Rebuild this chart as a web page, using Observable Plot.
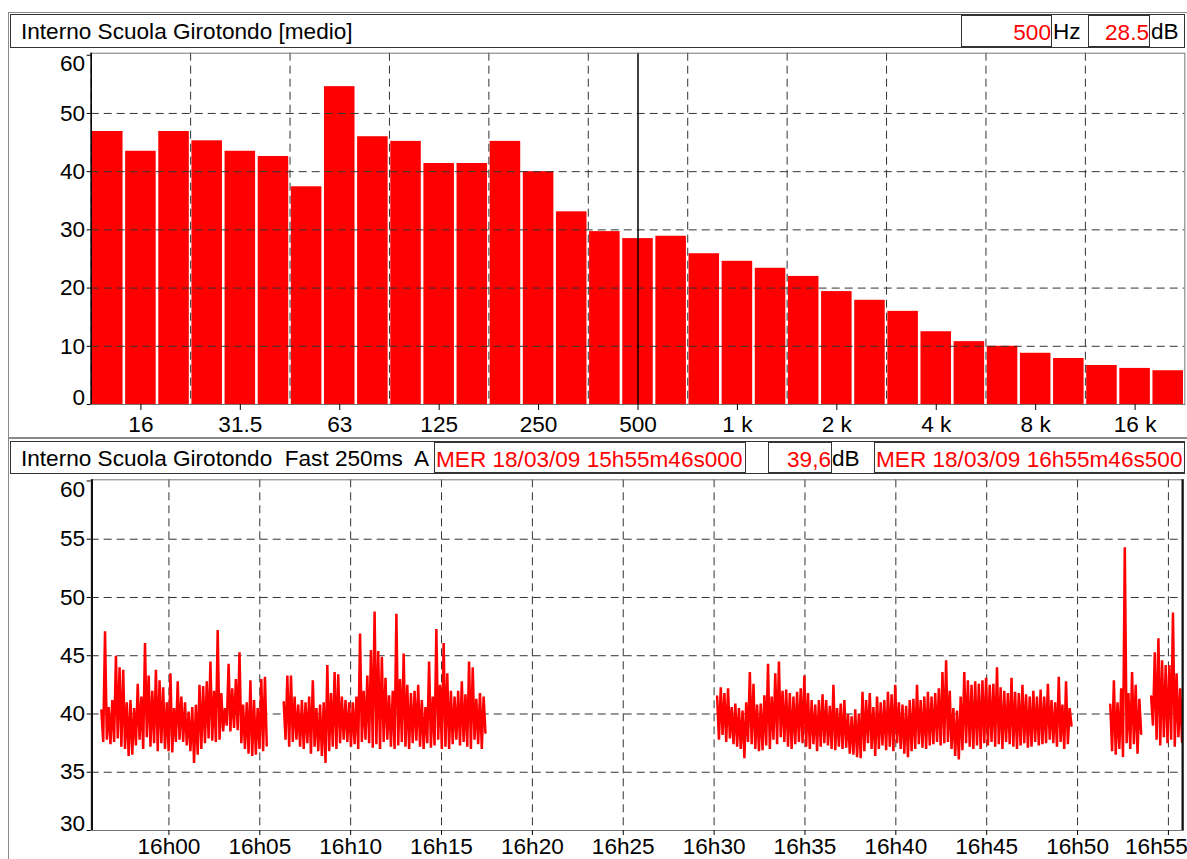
<!DOCTYPE html>
<html>
<head>
<meta charset="utf-8">
<script src="https://cdn.jsdelivr.net/npm/d3@7"></script>
<script src="https://cdn.jsdelivr.net/npm/@observablehq/plot@0.6"></script>
<style>
  html, body { margin: 0; padding: 0; background: #fff; overflow: hidden; }
  #root { position: relative; width: 1187px; height: 859px; overflow: hidden; font-family: "Liberation Sans", Arial, sans-serif; font-size: 22.6px; color: #000; }
  #root svg { position: absolute; left: 0; background: transparent; }
  .panel { position: absolute; border: 1px solid #8a8a8a; box-sizing: border-box; }
  .hdr { position: absolute; background: #fff; border: 1px solid #333; box-sizing: border-box; }
  .txt { position: absolute; white-space: pre; line-height: 1; }
  .box { position: absolute; background: #fff; border: 1px solid #333; box-sizing: border-box; color: #f00; text-align: right; white-space: pre; line-height: 1; }
</style>
</head>
<body>
<div id="root"></div>
<script>
// ---------- Spectrum (top) ----------
const bands = ["12.5","16","20","25","31.5","40","50","63","80","100","125","160","200","250","315","400","500","630","800","1 k","1.25 k","1.6 k","2 k","2.5 k","3.15 k","4 k","5 k","6.3 k","8 k","10 k","12.5 k","16 k","20 k"];
const levels = [46.9,43.5,46.9,45.3,43.5,42.6,37.4,54.6,46.0,45.2,41.4,41.4,45.2,40.0,33.1,29.7,28.5,28.9,25.9,24.6,23.4,22.0,19.4,17.9,16.0,12.5,10.8,10.0,8.8,7.9,6.7,6.2,5.8];
const bandTickLabels = ["16","31.5","63","125","250","500","1 k","2 k","4 k","8 k","16 k"];
const bandGridAt = ["12.5","25","50","100","200","400","800","1.6 k","3.15 k","6.3 k","12.5 k"];
const spectrumTicks = [0,10,20,30,40,50,60];
const cursorBand = "500";

// ---------- Time history (bottom) ----------
const timeStart = "2009-03-18T15:55:46.000Z";
const timeEnd   = "2009-03-18T16:55:46.500Z";
const levelTicks = [30,35,40,45,50,55,60];
const sampleSeconds = 12;
const segStarts = ["2009-03-18T15:56:17Z","2009-03-18T16:06:19Z","2009-03-18T16:30:10Z","2009-03-18T16:51:48Z","2009-03-18T16:54:03Z"];
const peaks1 = [40.3,47.1,40.6,41.2,45.0,44.0,43.8,41.0,41.2,40.5,42.6,41.5,46.1,43.3,42.0,43.8,42.9,42.3,41.0,43.5,40.5,42.8,41.5,41.0,40.2,40.6,40.8,42.5,42.4,42.8,44.5,42.0,47.2,41.8,40.5,44.3,42.2,43.0,45.3,40.8,41.0,42.9,41.2,40.5,43.0,43.2];
const floors1 = [37.6,37.8,37.4,37.6,37.9,37.2,37.0,36.4,36.5,37.3,37.8,37.0,38.0,37.2,37.5,36.8,37.5,37.0,36.8,36.7,37.6,37.8,37.6,37.3,36.8,35.8,36.5,37.0,37.5,37.9,37.7,37.6,37.8,38.5,39.0,38.5,38.8,38.6,37.5,37.0,36.6,36.4,36.5,37.0,36.8,37.3];
const peaks2 = [41.0,43.3,43.3,41.5,40.8,41.2,41.0,41.5,42.9,40.5,40.8,41.0,44.2,41.8,43.6,43.4,41.5,41.2,41.0,41.0,41.5,46.9,42.0,43.3,45.5,48.8,45.4,44.9,43.1,41.6,42.0,48.6,43.0,45.2,42.5,41.8,42.0,42.5,41.2,40.6,44.5,41.5,47.3,42.5,46.1,43.5,42.0,41.5,42.0,42.8,41.7,44.5,44.0,41.3,41.8,41.5];
const floors2 = [37.8,37.2,37.6,37.8,37.2,37.0,37.5,36.6,37.2,36.8,36.4,35.8,36.8,37.2,37.0,37.5,37.8,37.6,37.2,37.4,37.0,37.6,37.8,37.5,37.1,37.4,37.0,37.6,37.8,37.2,37.0,37.3,37.6,37.2,37.0,37.5,37.7,37.2,37.0,37.5,37.1,37.3,37.8,37.0,37.2,37.0,37.4,37.8,37.3,37.6,37.2,37.0,37.8,37.4,37.0,38.4];
const peaks3 = [41.5,42.3,41.8,42.2,40.6,40.9,40.5,40.3,41.0,43.6,42.6,40.8,40.9,41.6,44.3,41.5,43.5,44.5,42.0,42.1,41.8,41.5,41.9,42.2,43.3,41.8,41.2,40.8,41.2,41.7,41.2,40.7,42.5,40.5,40.9,41.2,40.0,39.8,40.4,40.0,41.9,41.2,41.8,40.6,41.5,41.0,41.2,41.9,41.7,42.5,41.0,40.8,40.7,41.2,41.3,42.5,41.2,41.5,41.9,41.5,41.8,42.2,43.6,44.6,42.0,40.5,40.3,41.5,43.6,42.9,42.5,42.8,42.6,42.9,43.1,42.5,42.6,44.0,42.3,42.0,41.8,43.1,41.9,41.8,42.5,41.7,41.5,42.0,41.5,42.1,41.5,42.6,41.2,41.0,43.2,40.8,42.8,40.5];
const floors3 = [37.8,38.2,37.6,37.9,37.4,37.2,37.0,36.2,37.6,37.4,37.0,36.8,36.9,37.3,37.0,37.8,37.4,38.0,37.6,37.2,37.0,37.4,37.6,37.5,37.2,37.0,37.4,36.8,37.2,37.5,37.3,37.0,36.9,37.2,37.0,37.1,36.6,36.5,36.3,36.2,36.8,37.5,37.0,36.4,37.0,37.3,36.9,37.2,36.8,37.5,37.0,36.6,36.3,36.8,37.0,37.4,37.1,37.0,37.3,37.4,37.6,37.3,37.5,37.6,37.0,36.4,36.1,36.9,37.5,37.2,37.0,37.3,37.0,37.5,37.3,37.6,37.2,37.4,37.0,37.6,37.4,37.2,37.0,37.3,37.5,37.1,37.2,37.6,37.3,37.4,37.5,37.8,37.5,37.2,37.6,37.0,37.4,39.0];
const peaks4 = [40.8,42.9,41.0,42.2,54.3,41.8,43.6,42.5,41.3];
const floors4 = [36.8,36.5,37.0,36.3,37.5,37.0,37.4,36.6,38.3];
const peaks5 = [41.5,45.3,46.5,44.6,44.2,44.2,48.7,43.5,42.2];
const floors5 = [39.0,37.8,37.3,38.0,37.5,37.8,37.2,38.0,37.6];

const headerTop = {title: "Interno Scuola Girotondo [medio]", freq: "500", freqUnit: "Hz", level: "28.5", levelUnit: "dB"};
const headerBottom = {title: "Interno Scuola Girotondo  Fast 250ms  A", from: "MER 18/03/09 15h55m46s000", level: "39,6", levelUnit: "dB", to: "MER 18/03/09 16h55m46s500"};

const root = document.getElementById("root");
const FONT = '"Liberation Sans", Arial, sans-serif';
const RED = "#ff0000";
const FS = 22.6;
const GRID = {stroke: "#333", strokeOpacity: 1, strokeDasharray: "8,5", strokeWidth: 1};

// ---------- top chart ----------
const W = 1187;
const topH = 440;
const tm = {left: 90.7, right: 2.7, top: 52.7, bottom: 36};
const idx = new Map(bands.map((b, i) => [b, i]));
const barRows = bands.map((b, i) => ({i, band: b, level: levels[i]}));

const topPlot = Plot.plot({
  width: W, height: topH,
  marginLeft: tm.left, marginRight: tm.right, marginTop: tm.top, marginBottom: tm.bottom,
  style: {fontFamily: FONT, fontSize: FS + "px", color: "#000", background: "transparent", overflow: "visible"},
  x: {domain: [0, bands.length]},
  y: {domain: [0, 60.35]},
  marks: [
    Plot.rectY(barRows, {x1: "i", x2: d => d.i + 1, y: "level", fill: RED, insetLeft: 1.3, insetRight: 1.3}),
    Plot.gridY(spectrumTicks.filter(v => v > 0 && v < 60), GRID),
    Plot.ruleX(bandGridAt, {x: b => idx.get(b), ...GRID}),
    Plot.ruleX([cursorBand], {x: b => idx.get(b) + 0.5, stroke: "#000", strokeWidth: 1.5}),
    Plot.frame({stroke: "#777"}),
    Plot.ruleX([0], {stroke: "#000", strokeWidth: 1.5}),
    Plot.axisY({ticks: spectrumTicks, tickSize: 4, tickFormat: () => "", label: null}),
    Plot.axisY({ticks: spectrumTicks.filter(v => v > 0 && v < 60), tickSize: 0, tickPadding: 6, label: null, fontSize: FS}),
    Plot.axisY({ticks: [60], tickSize: 0, tickPadding: 6, dy: 9, label: null, fontSize: FS}),
    Plot.axisY({ticks: [0], tickSize: 0, tickPadding: 6, dy: -7, label: null, fontSize: FS}),
    Plot.axisX({ticks: bandTickLabels.map(b => idx.get(b) + 0.5), tickFormat: v => bands[Math.floor(v)], tickSize: 6, tickPadding: 5, label: null, fontSize: FS})
  ]
});
topPlot.style.top = "0px";

// ---------- bottom chart ----------
const botTop = 430;
const botH = 859 - botTop;
const bm = {left: 90.7, right: 4, top: 49.3, bottom: 29};
const rows = [];
[[peaks1, floors1], [peaks2, floors2], [peaks3, floors3], [peaks4, floors4], [peaks5, floors5]].forEach(([hi, lo], s) => {
  const ts = +new Date(segStarts[s]);
  hi.forEach((h, i) => {
    rows.push({t: new Date(ts + i * sampleSeconds * 1000), v: h, s});
    rows.push({t: new Date(ts + (i + 0.5) * sampleSeconds * 1000), v: lo[i], s});
  });
});
const t0 = new Date(timeStart), t1 = new Date(timeEnd);
const timeTicks = d3.utcMinute.every(5).range(new Date("2009-03-18T16:00:00Z"), t1);
const fmt = d3.utcFormat("%Hh%M");

const botPlot = Plot.plot({
  width: W, height: botH,
  marginLeft: bm.left, marginRight: bm.right, marginTop: bm.top, marginBottom: bm.bottom,
  style: {fontFamily: FONT, fontSize: FS + "px", color: "#000", background: "transparent", overflow: "visible"},
  x: {type: "utc", domain: [t0, t1], insetLeft: 0.8, insetRight: 1},
  y: {domain: [30, 60.1]},
  marks: [
    Plot.gridY(levelTicks.filter(v => v > 30 && v < 60), GRID),
    Plot.gridX(timeTicks, GRID),
    Plot.line(rows, {x: "t", y: "v", z: "s", stroke: RED, strokeWidth: 2.5, strokeLinejoin: "miter", strokeMiterlimit: 2}),
    Plot.frame({stroke: "#777"}),
    Plot.ruleX([t0, t1], {stroke: "#111", strokeWidth: 2}),
    Plot.axisY({ticks: levelTicks, tickSize: 4, tickFormat: () => "", label: null}),
    Plot.axisY({ticks: levelTicks.filter(v => v > 30 && v < 60), tickSize: 0, tickPadding: 6, label: null, fontSize: FS}),
    Plot.axisY({ticks: [60], tickSize: 0, tickPadding: 6, dy: 9, label: null, fontSize: FS}),
    Plot.axisY({ticks: [30], tickSize: 0, tickPadding: 6, dy: -7, label: null, fontSize: FS}),
    Plot.axisX({ticks: timeTicks, tickSize: 5, tickFormat: () => "", label: null}),
    Plot.axisX({ticks: timeTicks.slice(0, -1), tickFormat: fmt, tickSize: 0, tickPadding: 7, label: null, fontSize: FS}),
    Plot.axisX({ticks: timeTicks.slice(-1), tickFormat: fmt, tickSize: 0, tickPadding: 7, dx: -12, label: null, fontSize: FS})
  ]
});
botPlot.style.top = botTop + "px";

root.appendChild(topPlot);
root.appendChild(botPlot);

// ---------- frames and headers ----------
function el(cls, css, text) {
  const d = document.createElement("div");
  d.className = cls;
  Object.assign(d.style, css);
  if (text != null) d.textContent = text;
  root.appendChild(d);
  return d;
}
el("panel", {left: "8px", top: "12px", width: "1181px", height: "427px"});
el("panel", {left: "8px", top: "437px", width: "1181px", height: "440px"});

el("hdr", {left: "10px", top: "14px", width: "1175px", height: "34px"});
el("txt", {left: "21px", top: "21px"}, headerTop.title);
el("box", {left: "961px", top: "15px", width: "91px", height: "32px", paddingTop: "6px"}, headerTop.freq);
el("txt", {left: "1053px", top: "21px"}, headerTop.freqUnit);
el("box", {left: "1088px", top: "15px", width: "62px", height: "32px", paddingTop: "6px"}, headerTop.level);
el("txt", {left: "1151px", top: "21px"}, headerTop.levelUnit);

el("hdr", {left: "10px", top: "441px", width: "1175px", height: "33px"});
el("txt", {left: "21px", top: "448px"}, headerBottom.title);
el("box", {left: "434px", top: "442px", width: "312px", height: "31px", paddingTop: "6px", textAlign: "left", paddingLeft: "1px"}, headerBottom.from);
el("box", {left: "768px", top: "442px", width: "64px", height: "31px", paddingTop: "6px"}, headerBottom.level);
el("txt", {left: "832px", top: "448px"}, headerBottom.levelUnit);
el("box", {left: "874px", top: "442px", width: "311px", height: "31px", paddingTop: "6px", textAlign: "left", paddingLeft: "1px"}, headerBottom.to);
</script>
</body>
</html>
